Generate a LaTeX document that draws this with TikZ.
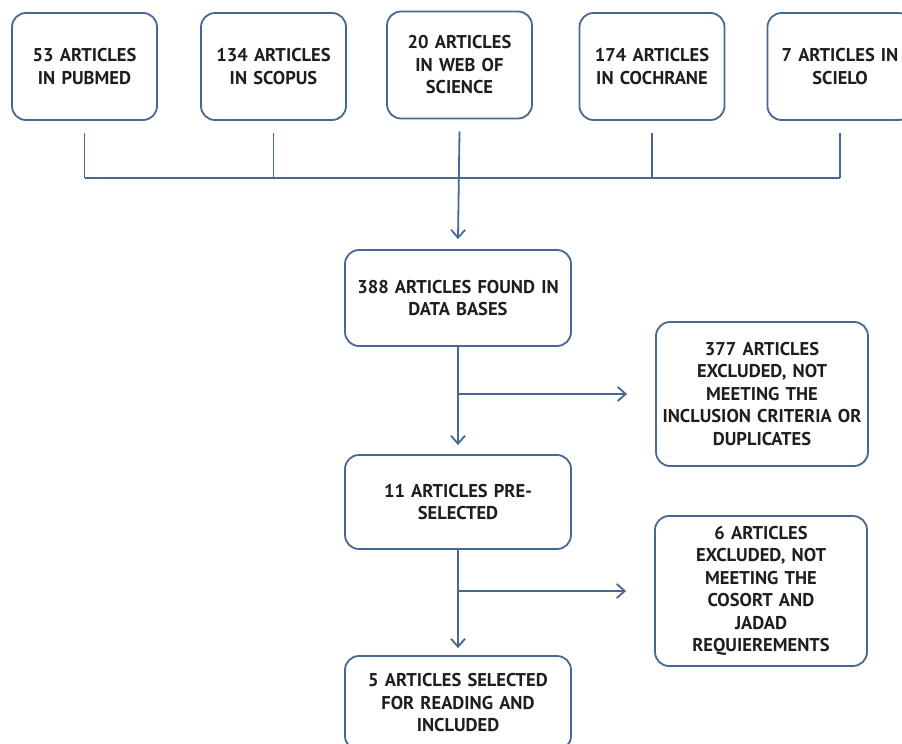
\documentclass[tikz,border=0pt]{standalone}
\usepackage{fontspec}
\setmainfont{PT Sans}
\usetikzlibrary{arrows.meta}
\definecolor{boxblue}{RGB}{72,103,146}
\definecolor{inkgray}{RGB}{30,30,30}

\begin{document}
\begin{tikzpicture}[x=1pt, y=-1pt, >={Straight Barb[length=8pt,width=14pt]}, line width=1.8pt,
	box/.style={draw=boxblue, rounded corners=14pt, align=center, inner sep=2pt, text=inkgray,
		font=\bfseries\fontsize{18.5}{22.5}\selectfont},
	srcbox/.style={box, text width=141pt, minimum height=107pt},
	midbox/.style={box, text width=222pt, minimum height=94pt},
	sidebox/.style={box, text width=208pt},
	flow/.style={draw=boxblue, line width=1.8pt}]
	\useasboundingbox (0,0) rectangle (902,744);
	% data bases
	\node[srcbox] (pubmed) at (84.5,66.5) {53 ARTICLES\\IN PUBMED};
	\node[srcbox] (scopus) at (273.5,66.5) {134 ARTICLES\\IN SCOPUS};
	\node[srcbox] (wos) at (459.5,65) {20 ARTICLES\\IN WEB OF\\SCIENCE};
	\node[srcbox] (cochrane) at (652,66.5) {174 ARTICLES\\IN COCHRANE};
	\node[srcbox] (scielo) at (840,66.5) {7 ARTICLES IN\\SCIELO};
	\coordinate (bus) at (0,178);
	% selection steps
	\node[midbox, minimum height=96pt] (found) at (458,298) {388 ARTICLES FOUND IN\\DATA BASES};
	\node[midbox] (pre) at (458,502) {11 ARTICLES PRE-\\SELECTED};
	\node[midbox] (incl) at (458,703) {5 ARTICLES SELECTED\\FOR READING AND\\INCLUDED};
	\node[sidebox, minimum height=144pt] (excl1) at (762,394) {377 ARTICLES\\EXCLUDED, NOT\\MEETING THE\\INCLUSION CRITERIA OR\\DUPLICATES};
	\node[sidebox, minimum height=150pt] (excl2) at (761,591) {6 ARTICLES\\EXCLUDED, NOT\\MEETING THE\\COSORT AND\\JADAD\\REQUIEREMENTS};
	% connectors
	\foreach \src in {pubmed,scopus,cochrane,scielo}
		\draw[flow] ([yshift=-12pt]\src.south) -- (\src.south |- bus);
	\draw[flow] (pubmed.south |- bus) -- (scielo.south |- bus);
	\draw[flow,->] ([yshift=-12pt]wos.south) -- ([yshift=10pt]found.north);
	\draw[flow,->] (found.south) -- ([yshift=9pt]pre.north);
	\draw[flow,->] (found.south |- excl1.west) -- ([xshift=-28pt]excl1.west);
	\draw[flow,->] (pre.south) -- ([yshift=7pt]incl.north);
	\draw[flow,->] (pre.south |- excl2.west) -- ([xshift=-28pt]excl2.west);
\end{tikzpicture}
\end{document}
